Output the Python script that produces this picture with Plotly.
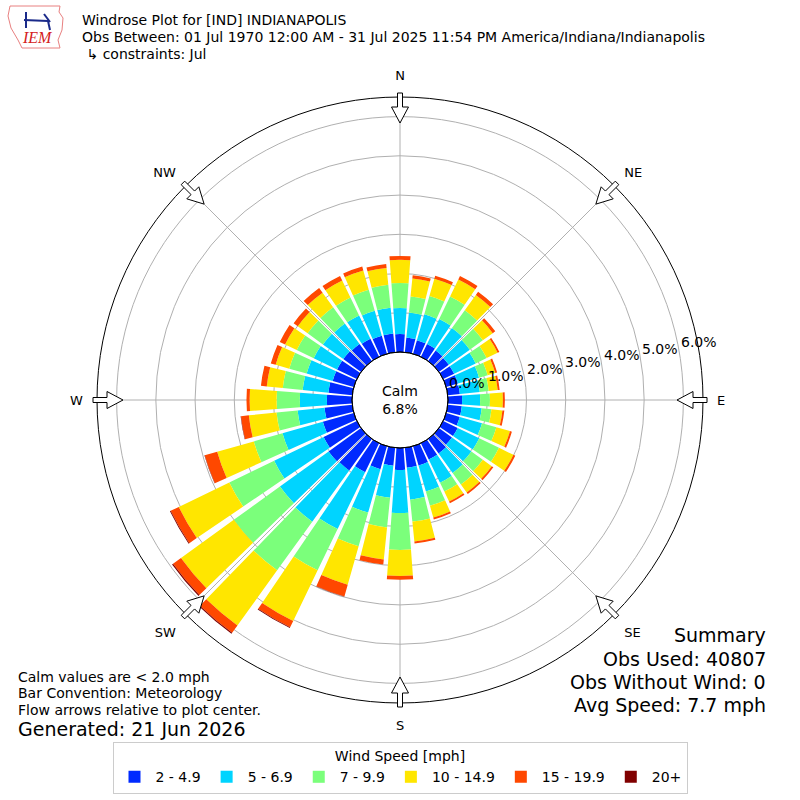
import math
import plotly.graph_objects as go

# ---------------- data ----------------
directions = [0, 10, 20, 30, 40, 50, 60, 70, 80, 90, 100, 110, 120, 130, 140, 150, 160, 170,
              180, 190, 200, 210, 220, 230, 240, 250, 260, 270, 280, 290, 300, 310, 320, 330, 340, 350]
bin_labels = ["2 - 4.9", "5 - 6.9", "7 - 9.9", "10 - 14.9", "15 - 19.9", "20+"]
bin_colors = ["#002AFF", "#00D4FF", "#7BFF7B", "#FFE600", "#FF4800", "#800000"]

spd_2_5 = [0.46, 0.38, 0.36, 0.36, 0.33, 0.31, 0.31, 0.31, 0.31, 0.36, 0.36, 0.36, 0.41, 0.41, 0.46, 0.46, 0.51, 0.51,
           0.56, 0.46, 0.61, 0.82, 0.99, 1.02, 0.94, 0.82, 0.71, 0.64, 0.61, 0.56, 0.56, 0.56, 0.54, 0.51, 0.48, 0.48]
spd_5_7 = [0.66, 0.64, 0.69, 0.71, 0.71, 0.66, 0.61, 0.56, 0.51, 0.46, 0.51, 0.59, 0.61, 0.61, 0.61, 0.66, 0.69, 0.82,
           1.10, 0.82, 1.15, 1.61, 1.61, 1.53, 1.40, 1.07, 0.69, 0.69, 0.66, 0.69, 0.66, 0.64, 0.64, 0.66, 0.66, 0.66]
spd_7_10 = [0.64, 0.41, 0.48, 0.64, 0.56, 0.41, 0.31, 0.23, 0.23, 0.25, 0.25, 0.38, 0.56, 0.36, 0.36, 0.25, 0.38, 0.56,
            0.94, 0.76, 0.89, 1.17, 1.53, 1.45, 1.27, 0.76, 0.54, 0.59, 0.51, 0.46, 0.48, 0.48, 0.51, 0.51, 0.56, 0.59]
spd_10_15 = [0.59, 0.46, 0.46, 0.48, 0.48, 0.31, 0.31, 0.20, 0.23, 0.33, 0.28, 0.36, 0.41, 0.28, 0.25, 0.28, 0.31, 0.51,
             0.66, 0.82, 1.02, 1.43, 1.73, 1.66, 1.43, 0.97, 0.71, 0.69, 0.41, 0.36, 0.33, 0.31, 0.46, 0.48, 0.51, 0.43]
spd_15_20 = [0.10, 0.08, 0.08, 0.10, 0.10, 0.08, 0.05, 0.05, 0.05, 0.05, 0.05, 0.05, 0.05, 0.05, 0.05, 0.05, 0.05, 0.05,
             0.10, 0.13, 0.31, 0.18, 0.23, 0.25, 0.23, 0.33, 0.20, 0.08, 0.15, 0.13, 0.15, 0.13, 0.15, 0.13, 0.10, 0.10]
spd_20p = [0.00, 0.00, 0.00, 0.00, 0.00, 0.00, 0.00, 0.00, 0.00, 0.00, 0.00, 0.00, 0.00, 0.00, 0.00, 0.00, 0.00, 0.00,
           0.00, 0.00, 0.01, 0.02, 0.03, 0.03, 0.02, 0.01, 0.01, 0.00, 0.00, 0.00, 0.00, 0.00, 0.00, 0.00, 0.00, 0.00]
series = [spd_2_5, spd_5_7, spd_7_10, spd_10_15, spd_15_20, spd_20p]

compass_angles = [0, 45, 90, 135, 180, 225, 270, 315]
compass_labels = ["N", "NE", "E", "SE", "S", "SW", "W", "NW"]
radial_ticks = [0, 1, 2, 3, 4, 5, 6]
radial_ticktext = ["0.0%", "1.0%", "2.0%", "3.0%", "4.0%", "5.0%", "6.0%"]

calm_pct = "6.8%"
FONT = "DejaVu Sans"

# ---------------- figure ----------------
fig = go.Figure()
for vals, name, col in zip(series, bin_labels, bin_colors):
    fig.add_trace(go.Barpolar(
        r=vals, theta=directions, width=8.4, name=name,
        marker=dict(color=col, line=dict(width=0)),
        hoverinfo="skip",
    ))

# geometry (pixels on the 800x800 page)
W = 800.0
R_OUT = 303.0
R_HOLE = 48.0
RMAX = 6.5
dom = [(400 - R_OUT) / W, (400 + R_OUT) / W]

fig.update_layout(
    width=800, height=800,
    margin=dict(l=0, r=0, t=0, b=0),
    paper_bgcolor="white",
    font=dict(family=FONT, size=13, color="black"),
    polar=dict(
        domain=dict(x=dom, y=dom),
        hole=R_HOLE / R_OUT,
        bgcolor="white",
        barmode="stack",
        angularaxis=dict(
            rotation=90, direction="clockwise",
            tickmode="array", tickvals=compass_angles, ticktext=compass_labels,
            showgrid=True, gridcolor="#b0b0b0", gridwidth=1,
            showline=True, linecolor="black", linewidth=1,
            ticks="outside", ticklen=11, tickcolor="rgba(0,0,0,0)",
            tickfont=dict(size=13, family=FONT),
            layer="above traces",
        ),
        radialaxis=dict(
            range=[0, RMAX], tickmode="array", tickvals=radial_ticks, ticktext=radial_ticktext,
            showgrid=True, gridcolor="#b0b0b0", gridwidth=1,
            showline=False, ticks="", angle=10, showticklabels=False,
            layer="above traces",
        ),
    ),
    legend=dict(
        orientation="h", x=0.5, xanchor="center", y=1 - 742 / W, yanchor="top",
        title=dict(text="Wind Speed [mph]", side="top center", font=dict(size=14)),
        bordercolor="#cccccc", borderwidth=1, font=dict(size=14),
        itemwidth=32,
    ),
    showlegend=True,
)


def px2paper(x, y):
    return x / W, 1 - y / W


shapes = []
# calm hole outline
shapes.append(dict(type="circle", xref="paper", yref="paper",
                   x0=(400 - R_HOLE) / W, x1=(400 + R_HOLE) / W,
                   y0=(400 - R_HOLE) / W, y1=(400 + R_HOLE) / W,
                   line=dict(color="black", width=1), fillcolor="rgba(0,0,0,0)", layer="above"))

# flow arrows at the compass points
arrow_local = [(307, -2.5), (293, -2.5), (293, -8.5), (277, 0), (293, 8.5), (293, 2.5), (307, 2.5)]
for ang in compass_angles:
    t = math.radians(ang)
    pts = []
    for rr, ww in arrow_local:
        x = 400 + rr * math.sin(t) + ww * math.cos(t)
        y = 400 - rr * math.cos(t) + ww * math.sin(t)
        pts.append(px2paper(x, y))
    path = "M " + " L ".join(f"{a:.5f},{b:.5f}" for a, b in pts) + " Z"
    shapes.append(dict(type="path", xref="paper", yref="paper", path=path,
                       fillcolor="white", line=dict(color="black", width=1), layer="above"))

# simple IEM logo outline
logo = [(10, 6), (60, 6), (59, 12), (63, 18), (62, 30), (58, 40), (60, 48), (22, 48), (18, 40), (11, 28), (8, 16)]
lp = [px2paper(a, b) for a, b in logo]
shapes.append(dict(type="path", xref="paper", yref="paper",
                   path="M " + " L ".join(f"{a:.5f},{b:.5f}" for a, b in lp) + " Z",
                   line=dict(color="#e88080", width=1), fillcolor="rgba(0,0,0,0)"))
for seg in [[(24, 20), (48, 21)], [(26, 12), (26, 28)], [(44, 14), (50, 22)], [(48, 21), (50, 30)]]:
    sp = [px2paper(a, b) for a, b in seg]
    shapes.append(dict(type="line", xref="paper", yref="paper",
                       x0=sp[0][0], y0=sp[0][1], x1=sp[1][0], y1=sp[1][1],
                       line=dict(color="#1a2a8a", width=2)))
fig.update_layout(shapes=shapes)

ann = []


def text(x, y, s, size=13, xanchor="left", yanchor="middle", color="black"):
    xp, yp = px2paper(x, y)
    ann.append(dict(x=xp, y=yp, xref="paper", yref="paper", text=s, showarrow=False,
                    xanchor=xanchor, yanchor=yanchor, font=dict(size=size, family=FONT, color=color)))


text(80, 20, "Windrose Plot for [IND] INDIANAPOLIS", 14)
text(80, 37, "Obs Between: 01 Jul 1970 12:00 AM - 31 Jul 2025 11:54 PM America/Indiana/Indianapolis", 14)
text(80, 54, " ↳ constraints: Jul", 14)

text(16, 677, "Calm values are &lt; 2.0 mph", 14)
text(16, 693, "Bar Convention: Meteorology", 14)
text(16, 710, "Flow arrows relative to plot center.", 14)
text(16, 729, "Generated: 21 Jun 2026", 19)

text(768, 635, "Summary", 19, xanchor="right")
text(768, 659, "Obs Used: 40807", 19, xanchor="right")
text(768, 682, "Obs Without Wind: 0", 19, xanchor="right")
text(768, 705, "Avg Speed: 7.7 mph", 19, xanchor="right")

# radial tick labels along the 80-degree (compass) line, left edge at the ring
scale = (R_OUT - R_HOLE) / RMAX
for v, lab in zip(radial_ticks, radial_ticktext):
    rp = R_HOLE + v * scale
    x = 400 + rp * math.cos(math.radians(10))
    y = 400 - rp * math.sin(math.radians(10))
    xp, yp = px2paper(x, y - 9)
    ann.append(dict(x=xp, y=yp, xref="paper", yref="paper", text=lab, showarrow=False,
                    xanchor="left", yanchor="middle", font=dict(size=14, family=FONT)))

xp, yp = px2paper(400, 400)
ann.append(dict(x=xp, y=yp, xref="paper", yref="paper", text="Calm<br>" + calm_pct, showarrow=False,
                xanchor="center", yanchor="middle", font=dict(size=14, family=FONT)))

xp, yp = px2paper(37, 37)
ann.append(dict(x=xp, y=yp, xref="paper", yref="paper", text="<i>IEM</i>", showarrow=False,
                xanchor="center", yanchor="middle", font=dict(size=16, family="Liberation Serif", color="#d42020")))

fig.update_layout(annotations=ann)

fig.write_html("out.html", config={"displayModeBar": False},
               post_script="document.body.style.margin='0';document.body.style.overflow='hidden';")
